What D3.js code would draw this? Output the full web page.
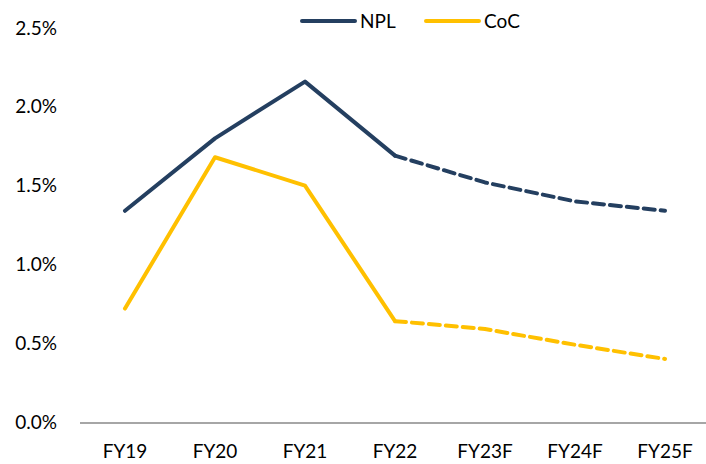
<!DOCTYPE html>
<html>
<head>
<meta charset="utf-8">
<script src="https://cdn.jsdelivr.net/npm/d3@7"></script>
<style>
  html, body { margin: 0; padding: 0; background: #fff; }
  svg { display: block; font-family: Lato, "Open Sans", sans-serif; }
</style>
</head>
<body>
<svg id="chart" width="706" height="464"></svg>
<script>
// Fiscal years; "F" marks forecast years
const categories = ["FY19", "FY20", "FY21", "FY22", "FY23F", "FY24F", "FY25F"];
// Values in percent
const nplValues = [1.34, 1.80, 2.16, 1.69, 1.52, 1.40, 1.34];
const cocValues = [0.72, 1.68, 1.50, 0.64, 0.59, 0.49, 0.40];
// Index of the last actual year; the forecast segment starts here
const lastActual = 3;
const yTicks = [0, 0.5, 1.0, 1.5, 2.0, 2.5];

const seriesList = [
  { name: "NPL", values: nplValues, color: "#243F60" },
  { name: "CoC", values: cocValues, color: "#FFC000" }
];

const svg = d3.select("#chart");

const x = d3.scaleBand().domain(categories).range([80, 710]).padding(0);
const y = d3.scaleLinear().domain([0, 2.5]).range([422, 28]);

// Y axis labels only (no line, no gridlines)
const yAxis = d3.axisLeft(y)
  .tickValues(yTicks)
  .tickFormat(d => d.toFixed(1) + "%")
  .tickSize(0)
  .tickPadding(0);
const yg = svg.append("g").attr("transform", "translate(57,0)").call(yAxis);
yg.select(".domain").remove();
yg.selectAll("text").attr("font-size", 19).attr("fill", "#000").attr("font-family", "Lato, sans-serif");

// X axis baseline and category labels
const xAxis = d3.axisBottom(x).tickSize(0).tickPadding(22);
const xg = svg.append("g").attr("transform", "translate(0,423)").call(xAxis);
xg.select(".domain").attr("stroke", "#A6A6A6").attr("stroke-width", 2)
  .attr("d", "M80,0H706");
xg.selectAll("text").attr("font-size", 19).attr("fill", "#000").attr("font-family", "Lato, sans-serif");

const cx = d => x(d) + x.bandwidth() / 2;

seriesList.forEach(s => {
  const pts = categories.map((c, i) => ({ c, v: s.values[i], i }));
  const line = d3.line().x(d => cx(d.c)).y(d => y(d.v));
  // actual years: solid
  svg.append("path")
    .attr("d", line(pts.filter(d => d.i <= lastActual)))
    .attr("fill", "none").attr("stroke", s.color).attr("stroke-width", 4)
    .attr("stroke-linejoin", "round").attr("stroke-linecap", "round");
  // forecast years: dashed
  svg.append("path")
    .attr("d", line(pts.filter(d => d.i >= lastActual)))
    .attr("fill", "none").attr("stroke", s.color).attr("stroke-width", 4)
    .attr("stroke-dasharray", "11,6").attr("stroke-linecap", "round")
    .attr("stroke-linejoin", "round");
});

// Legend
const legendX = [302, 426];
const legend = svg.append("g");
seriesList.forEach((s, i) => {
  const g = legend.append("g").attr("transform", `translate(${legendX[i]},21)`);
  g.append("line").attr("x1", 0).attr("x2", 53).attr("y1", 0).attr("y2", 0)
    .attr("stroke", s.color).attr("stroke-width", 4).attr("stroke-linecap", "round");
  g.append("text").attr("x", 58).attr("y", 0).attr("dy", "0.35em")
    .attr("font-size", 19).attr("fill", "#000").text(s.name);
});
</script>
</body>
</html>
